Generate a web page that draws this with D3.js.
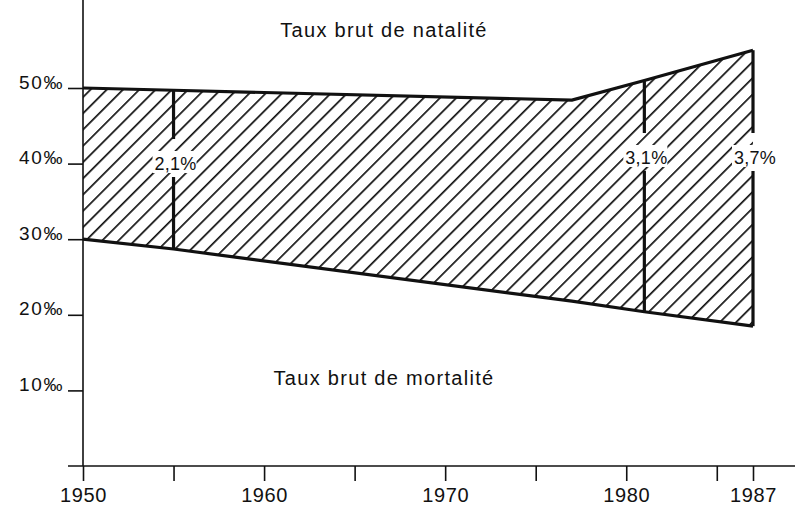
<!DOCTYPE html>
<html>
<head>
<meta charset="utf-8">
<script src="https://cdn.jsdelivr.net/npm/d3@7"></script>
<style>
  body { margin: 0; background: #fff; }
  text { font-family: "Liberation Sans", Arial, sans-serif; fill: #111; }
</style>
</head>
<body>
<div id="canvas"></div>
<script>
"use strict"

/* data */
let years = [1950, 1955, 1977, 1981, 1987];
let natalite = [50, 49.7, 48.4, 51.0, 55.0];
let mortalite = [30, 28.7, 21.8, 20.4, 18.5];

let rateYears = [1955, 1981, 1987];
let rateLabels = ["2,1%", "3,1%", "3,7%"];

let yTicks = [10, 20, 30, 40, 50];
let xTicks = [1950, 1955, 1960, 1965, 1970, 1975, 1980, 1985, 1987];
let xLabelled = [1950, 1960, 1970, 1980, 1987];

let drawing = d3.select("#canvas")
  .append("svg")
  .attr("width", 795)
  .attr("height", 506);

let x = d3.scaleLinear().domain([1950, 1987]).range([83, 753]);
let y = d3.scaleLinear().domain([0, 50]).range([466, 88]);

/* hatch pattern */
let defs = drawing.append("defs");
let pat = defs.append("pattern")
  .attr("id", "hatch")
  .attr("patternUnits", "userSpaceOnUse")
  .attr("width", 11.5)
  .attr("height", 11.5)
  .attr("patternTransform", "rotate(45)");
pat.append("line")
  .attr("x1", 0).attr("y1", 0)
  .attr("x2", 0).attr("y2", 11.5)
  .attr("stroke", "#111")
  .attr("stroke-width", 3.4);

let points = years.map((yr, i) => ({ yr: yr, top: natalite[i], bot: mortalite[i] }));

/* hatched band */
let area = d3.area()
  .x(d => x(d.yr))
  .y0(d => y(d.bot))
  .y1(d => y(d.top));

drawing.append("path")
  .datum(points)
  .attr("d", area)
  .attr("fill", "url(#hatch)");

/* outlines */
let topLine = d3.line().x(d => x(d.yr)).y(d => y(d.top));
let botLine = d3.line().x(d => x(d.yr)).y(d => y(d.bot));

drawing.append("path")
  .datum(points)
  .attr("d", topLine)
  .attr("fill", "none")
  .attr("stroke", "#111")
  .attr("stroke-width", 3.2);

drawing.append("path")
  .datum(points)
  .attr("d", botLine)
  .attr("fill", "none")
  .attr("stroke", "#111")
  .attr("stroke-width", 3.2);

/* vertical markers with growth rate labels */
let labelY = [163, 157, 157];
rateYears.forEach((yr, i) => {
  let p = points.find(d => d.yr === yr);
  let cx = x(yr);
  let cy = labelY[i];
  let gapTop = cy - 24;
  let gapBot = cy + 14;

  drawing.append("line")
    .attr("x1", cx).attr("x2", cx)
    .attr("y1", y(p.top)).attr("y2", gapTop)
    .attr("stroke", "#111").attr("stroke-width", 3.2);
  drawing.append("line")
    .attr("x1", cx).attr("x2", cx)
    .attr("y1", gapBot).attr("y2", y(p.bot))
    .attr("stroke", "#111").attr("stroke-width", 3.2);

  drawing.append("rect")
    .attr("x", cx - 21).attr("y", cy - 12)
    .attr("width", 44).attr("height", 22)
    .attr("fill", "#fff");
  drawing.append("text")
    .attr("x", cx + 2).attr("y", cy + 7)
    .attr("text-anchor", "middle")
    .attr("font-size", 18)
    .attr("letter-spacing", 0.3)
    .text(rateLabels[i]);
});

/* axes lines */
drawing.append("line")
  .attr("x1", x(1950)).attr("x2", x(1950))
  .attr("y1", 0).attr("y2", y(0))
  .attr("stroke", "#111").attr("stroke-width", 1.6);

drawing.append("line")
  .attr("x1", 68).attr("x2", 795)
  .attr("y1", y(0)).attr("y2", y(0))
  .attr("stroke", "#111").attr("stroke-width", 1.6);

/* y axis */
let yAxis = drawing.append("g")
  .attr("transform", `translate(${x(1950)},0)`)
  .call(d3.axisLeft(y)
    .tickValues(yTicks)
    .tickSize(15)
    .tickPadding(4)
    .tickFormat(d => d + "‰"));
yAxis.select(".domain").remove();
yAxis.selectAll("line").attr("stroke", "#111").attr("stroke-width", 1.6);
yAxis.selectAll("text")
  .attr("dy", "0")
  .attr("font-size", 19)
  .attr("letter-spacing", 1.6)
  .attr("font-family", "Liberation Sans, Arial, sans-serif")
  .attr("fill", "#111");

/* x axis */
let xAxis = drawing.append("g")
  .attr("transform", `translate(0,${y(0)})`)
  .call(d3.axisBottom(x)
    .tickValues(xTicks)
    .tickSize(15)
    .tickPadding(7)
    .tickFormat(d => xLabelled.includes(d) ? String(d) : ""));
xAxis.select(".domain").remove();
xAxis.selectAll("line").attr("stroke", "#111").attr("stroke-width", 1.6);
xAxis.selectAll("text")
  .attr("font-size", 20)
  .attr("letter-spacing", 0.6)
  .attr("font-family", "Liberation Sans, Arial, sans-serif")
  .attr("fill", "#111");

/* captions */
drawing.append("text")
  .attr("x", 384).attr("y", 37)
  .attr("text-anchor", "middle")
  .attr("font-size", 20)
  .attr("letter-spacing", 1.3)
  .text("Taux brut de natalité");

drawing.append("text")
  .attr("x", 384).attr("y", 385)
  .attr("text-anchor", "middle")
  .attr("font-size", 20)
  .attr("letter-spacing", 1.3)
  .text("Taux brut de mortalité");
</script>
</body>
</html>
